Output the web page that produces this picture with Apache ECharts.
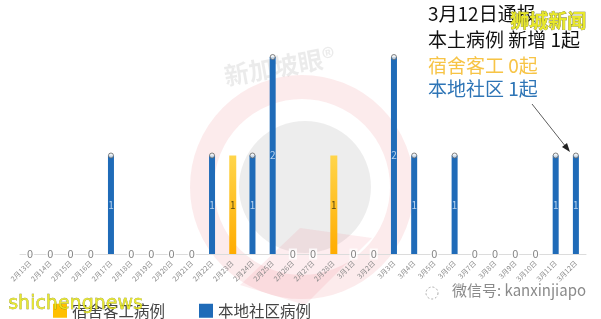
<!DOCTYPE html>
<html><head><meta charset="utf-8">
<script src="https://cdn.jsdelivr.net/npm/echarts@6/dist/echarts.min.js"></script>
<style>html,body{margin:0;padding:0;background:#fff}#c{width:601px;height:319px}</style>
</head><body><div id="c"></div>
<script>
var categories = ['2月13日','2月14日','2月15日','2月16日','2月17日','2月18日','2月19日','2月20日','2月21日','2月22日','2月23日','2月24日','2月25日','2月26日','2月27日','2月28日','3月1日','3月2日','3月3日','3月4日','3月5日','3月6日','3月7日','3月8日','3月9日','3月10日','3月11日','3月12日'];
var dormValues   = [0,0,0,0,0,0,0,0,0,0,1,0,0,0,0,1,0,0,0,0,0,0,0,0,0,0,0,0];
var communityValues = [0,0,0,0,1,0,0,0,0,1,0,1,2,0,0,0,0,0,2,1,0,1,0,0,0,0,1,1];
var seriesNames = ['宿舍客工病例','本地社区病例'];
var noteLines = ['3月12日通报','本土病例 新增 1起','宿舍客工 0起','本地社区 1起'];

var FONT = '"Noto Sans CJK SC", sans-serif';
var chart = echarts.init(document.getElementById('c'));

var dormData = dormValues.map(function(v){ return v > 0 ? v : '-'; });
var commData = communityValues.map(function(v){ return v > 0 ? v : '-'; });
var zeroData = categories.map(function(c,i){ return (dormValues[i] + communityValues[i]) === 0 ? 0 : '-'; });
var topData = communityValues.map(function(v){ return v > 0 ? v : '-'; });

chart.setOption({
  animation: false,
  backgroundColor: '#fff',
  grid: { left: 20, right: 15, top: 57, bottom: 65 },
  xAxis: {
    type: 'category', data: categories,
    axisLine: { lineStyle: { color: '#dcdcdc' } },
    axisTick: { show: false },
    axisLabel: { rotate: 45, fontSize: 7, color: '#8a8a8a', margin: 8, interval: 0, fontFamily: FONT }
  },
  yAxis: { type: 'value', min: 0, max: 2, show: false, splitLine: { show: false } },
  legend: {
    left: 48, top: 298, itemWidth: 14, itemHeight: 14, itemGap: 34,
    textStyle: { fontSize: 15.5, color: '#444', fontFamily: FONT },
    data: [
      { name: seriesNames[0], icon: 'rect', itemStyle: { color: '#FFC000' } },
      { name: seriesNames[1], icon: 'rect', itemStyle: { color: '#1F6BB8' } }
    ]
  },
  series: [
    {
      name: seriesNames[0], type: 'bar', data: dormData, barWidth: 7, barGap: '-100%',
      itemStyle: { color: new echarts.graphic.LinearGradient(0,0,0,1,[{offset:0,color:'#FFD54A'},{offset:1,color:'#FFAC00'}]) },
      label: { show: true, position: 'inside', color: '#5a4a10', fontSize: 10, fontFamily: FONT }
    },
    {
      name: seriesNames[1], type: 'bar', data: commData, barWidth: 6,
      itemStyle: { color: '#1F6BB8' },
      label: { show: true, position: 'inside', color: '#b8d4f0', fontSize: 10, fontFamily: FONT }
    },
    {
      name: 'top', type: 'scatter', data: topData, symbol: 'circle', symbolSize: 5,
      itemStyle: { color: '#eef2f6', borderColor: '#666', borderWidth: 1 }, z: 5,
      silent: true
    },
    {
      name: 'zero', type: 'scatter', data: zeroData, symbolSize: 0, z: 6,
      label: { show: true, position: 'inside', formatter: '0', color: '#666', fontSize: 11,
               backgroundColor: '#fff', padding: [0,1], fontFamily: FONT }
    }
  ],
  graphic: [
    { type: 'circle', shape: { cx: 302, cy: 187, r: 100 }, style: { fill: 'none', stroke: 'rgba(235,110,120,0.14)', lineWidth: 24 }, z: -10, silent: true },
    { type: 'circle', shape: { cx: 305, cy: 187, r: 66 }, style: { fill: 'rgba(0,0,0,0.07)' }, z: -10, silent: true },
    { type: 'polygon', shape: { points: [[300,228],[372,238],[305,305],[240,285]] }, style: { fill: 'rgba(235,110,120,0.12)' }, z: -10, silent: true },
    { type: 'text', left: 222, top: 44, rotation: 0.18, style: { text: '新加坡眼®', fontSize: 25, fontWeight: 'bold', fill: 'rgba(0,0,0,0.08)', fontFamily: FONT }, z: -5, silent: true },
    { type: 'text', left: 428, top: 4, style: { text: noteLines[0], fontSize: 19, fill: '#111', fontFamily: FONT } },
    { type: 'text', left: 428, top: 30, style: { text: noteLines[1], fontSize: 19, fill: '#111', fontFamily: FONT } },
    { type: 'text', left: 428, top: 56, style: { text: noteLines[2], fontSize: 19, fill: '#F7C446', fontFamily: FONT } },
    { type: 'text', left: 428, top: 79, style: { text: noteLines[3], fontSize: 19, fill: '#2E75B6', fontFamily: FONT } },
    { type: 'line', shape: { x1: 532, y1: 104, x2: 566, y2: 147 }, style: { stroke: '#333', lineWidth: 0.8 } },
    { type: 'polygon', shape: { points: [[570,152],[562,147],[567,143]] }, style: { fill: '#222' } },
    { type: 'text', left: 510, top: 11, style: { text: '狮城新闻', fontSize: 19, fontWeight: 'bold', fill: '#E8E82A', stroke: '#6a6a20', lineWidth: 0.6, fontFamily: FONT } },
    { type: 'text', left: 8, top: 294, style: { text: 'shichengnews', fontSize: 19, fill: 'rgba(230,230,30,0.9)', stroke: '#7a7a20', lineWidth: 0.4, fontFamily: 'DejaVu Sans' }, z: 20 },
    { type: 'text', left: 452, top: 283, style: { text: '微信号: kanxinjiapo', fontSize: 15, fill: '#8a8a8a', fontFamily: FONT } },
    { type: 'circle', shape: { cx: 432, cy: 293, r: 6 }, style: { fill: 'none', stroke: '#aaa', lineWidth: 1, lineDash: [2,2] } }
  ]
});
</script></body></html>
